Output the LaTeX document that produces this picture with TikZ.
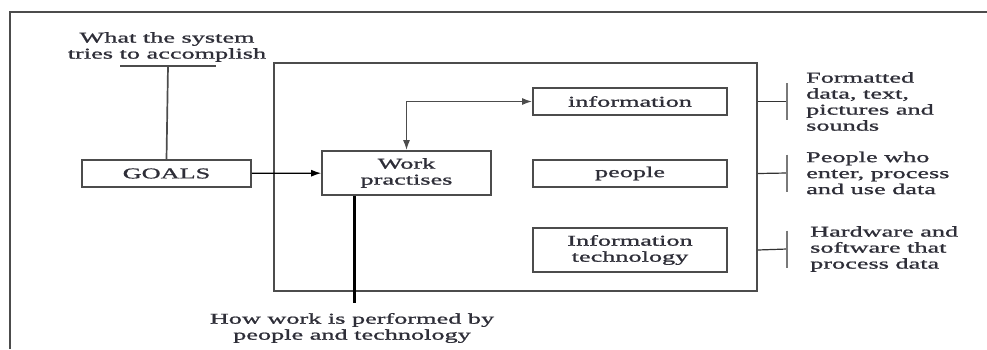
\documentclass[tikz,border=0pt]{standalone}
\usepackage{fontspec}
\setmainfont[FakeStretch=1.75, FakeBold=1.2]{Liberation Serif}
\usetikzlibrary{arrows.meta}
\definecolor{inkgray}{rgb}{0.18,0.18,0.22}
\definecolor{linegray}{rgb}{0.3,0.3,0.3}
\begin{document}
\begin{tikzpicture}
            [
                x = 1pt, y = -1pt,
                every node/.style = {font=\fontsize{15}{16}\selectfont, text=inkgray, align=center},
                box/.style  = {draw=linegray, line width=1.7pt, shape=rectangle, inner sep=0pt},
                note/.style = {anchor=west, align=left, inner sep=0pt},
                link/.style = {draw=black, line width=1.2pt},
                tip/.style  = {-{Latex[length=10pt,width=7pt]}},
                bar/.style  = {draw=linegray!75, line width=2.8pt}
            ]
            \useasboundingbox (0,0) rectangle (987,349);
            % frame
            \draw[linegray, line width=2pt] (10,349) -- (10,12) -- (987,12);
            % system box and its parts
            \node[box, minimum width=483, minimum height=228] (sys) at (515.5,177) {};
            \node[box, minimum width=169, minimum height=27] (goals) at (166.5,173.5) {GOALS};
            \node[box, minimum width=169, minimum height=44, fill=white] (work) at (406.5,173) {Work\\practises};
            \node[box, minimum width=194, minimum height=27] (info) at (630,101.5) {information};
            \node[box, minimum width=194, minimum height=27] (ppl) at (630,173.5) {people};
            \node[box, minimum width=194, minimum height=44] (itech) at (630,250) {Information\\technology};
            % explanations
            \node (aim) at (167,47) {What the system\\tries to accomplish};
            \node (how) at (352,328) {How work is performed by\\people and technology};
            \node[note] (infonote) at (806,101.5) {Formatted\\data, text,\\pictures and\\sounds};
            \node[note] (pplnote) at (806,173) {People who\\enter, process\\and use data};
            \node[note] (itnote) at (810,249) {Hardware and\\software that\\process data};
            \coordinate (aimbar) at (168,66);
            \coordinate (howend) at (354,303);
            \coordinate (bar1) at (787,101.5);
            \coordinate (bar2) at (787,173);
            \coordinate (bar3) at (787,249);
            % connectors
            \draw[link, draw=linegray, line width=1.4pt] ([xshift=-48pt]aimbar) -- ([xshift=48pt]aimbar);
            \draw[link, draw=linegray, line width=1.7pt] (aimbar) -- (goals.north);
            \draw[link, tip] (goals) -- (work);
            \draw[link, {Latex[length=10pt,width=7pt]}-{Latex[length=10pt,width=7pt]}, draw=linegray, line width=1.5pt] (work.north) |- (info.west);
            \draw[link, line width=3pt] (howend |- work.south) -- (howend);
            \foreach \b/\n in {bar1/info, bar2/ppl, bar3/itech} {
                \draw[link, draw=black!80] (sys.east |- \n) -- (\b);
                \draw[bar] ([yshift=18.5pt]\b) -- ([yshift=-18.5pt]\b);
            }
        \end{tikzpicture}
\end{document}
